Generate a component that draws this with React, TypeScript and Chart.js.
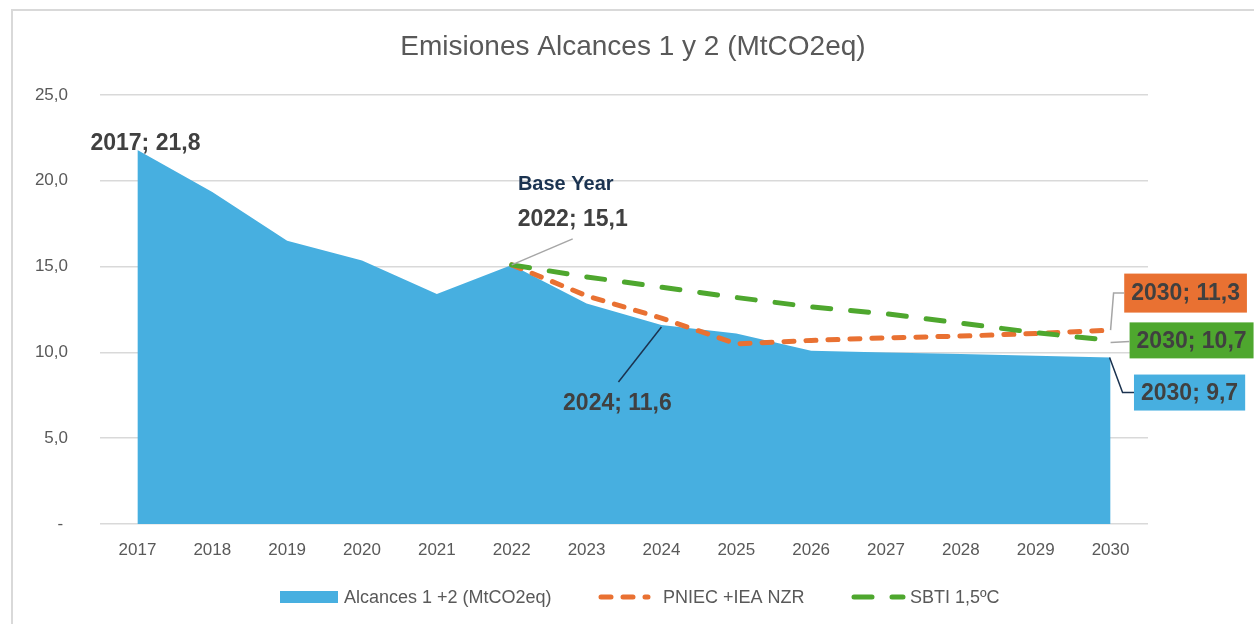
import React, { useEffect, useRef } from 'react';
import { Chart, registerables } from 'chart.js';
Chart.register(...registerables);

const title = 'Emisiones Alcances 1 y 2 (MtCO2eq)';
const years = ['2017', '2018', '2019', '2020', '2021', '2022', '2023', '2024', '2025', '2026', '2027', '2028', '2029', '2030'];
const alcances = [21.8, 19.35, 16.5, 15.35, 13.4, 15.1, 12.85, 11.6, 11.1, 10.1, 10.0, 9.9, 9.8, 9.7];
const pniec = [null, null, null, null, null, 15.1, 13.3, 12.0, 10.5, 10.7, 10.85, 10.95, 11.1, 11.3];
const sbti = [null, null, null, null, null, 15.1, 14.4, 13.8, 13.2, 12.65, 12.25, 11.7, 11.15, 10.7];
const seriesNames = ['Alcances 1 +2 (MtCO2eq)', 'PNIEC +IEA NZR', 'SBTI 1,5ºC'];
const yMin = 0;
const yMax = 25;
const yStep = 5;

const BLUE = '#47AFE0';
const ORANGE = '#E97132';
const GREEN = '#4EA72E';
const GRID = '#d9d9d9';
const TXT = '#595959';
const LBL = '#404040';
const NAVY = '#1b3350';
const SANS = "'Liberation Sans', Arial, sans-serif";

const fmt = (v: number) => v.toFixed(1).replace('.', ',');

function drawText(ctx: CanvasRenderingContext2D, s: string, cx: number, cy: number, font: string, color: string) {
  ctx.save();
  ctx.font = font;
  ctx.fillStyle = color;
  ctx.textAlign = 'center';
  ctx.textBaseline = 'middle';
  ctx.fillText(s, cx, cy);
  ctx.restore();
}

function drawBox(ctx: CanvasRenderingContext2D, s: string, cx: number, cy: number, font: string, bg: string, h: number) {
  ctx.save();
  ctx.font = font;
  const w = ctx.measureText(s).width + 14;
  ctx.fillStyle = bg;
  ctx.fillRect(cx - w / 2, cy - h / 2, w, h);
  ctx.restore();
  drawText(ctx, s, cx, cy + 1, font, LBL);
  return { left: cx - w / 2, w };
}

function poly(ctx: CanvasRenderingContext2D, pts: number[][], color: string) {
  ctx.save();
  ctx.strokeStyle = color;
  ctx.lineWidth = 1.5;
  ctx.beginPath();
  pts.forEach((p, i) => (i ? ctx.lineTo(p[0], p[1]) : ctx.moveTo(p[0], p[1])));
  ctx.stroke();
  ctx.restore();
}

const customPlugin = {
  id: 'customDraw',
  beforeDraw(chart: any) {
    const { ctx, width, height } = chart;
    ctx.save();
    ctx.fillStyle = '#ffffff';
    ctx.fillRect(0, 0, width, height);
    ctx.restore();
  },
  afterDatasetsDraw(chart: any) {
    const { ctx } = chart;
    const x = chart.scales.x;
    const y = chart.scales.y;
    const px = (i: number) => x.getPixelForValue(i);
    const py = (v: number) => y.getPixelForValue(v);
    const bold = `bold 23px ${SANS}`;
    const last = years.length - 1;

    // 2017 label
    drawText(ctx, `${years[0]}; ${fmt(alcances[0])}`, px(0) + 8, py(alcances[0]) - 6, bold, LBL);

    // Base year 2022
    const bi = 5;
    const bx = px(bi), by = py(alcances[bi]);
    poly(ctx, [[bx, by], [bx + 61, by - 26]], '#a6a6a6');
    drawText(ctx, `${years[bi]}; ${fmt(alcances[bi])}`, bx + 61, by - 45, bold, LBL);
    drawText(ctx, 'Base Year', bx + 54, by - 80, `bold 20px ${SANS}`, NAVY);

    // 2024
    const ci = 7;
    const cx = px(ci), cy = py(alcances[ci]);
    poly(ctx, [[cx, cy + 2], [cx - 43, cy + 57]], NAVY);
    drawText(ctx, `${years[ci]}; ${fmt(alcances[ci])}`, cx - 44, cy + 79, bold, LBL);

    // 2030 boxes
    const ex = px(last);
    const oy = py(pniec[last] as number);
    const ob = drawBox(ctx, `${years[last]}; ${fmt(pniec[last] as number)}`, ex + 75, oy - 37, bold, ORANGE, 39);
    poly(ctx, [[ex, oy], [ex + 3, oy - 37], [ob.left, oy - 37]], '#a6a6a6');

    const gy = py(sbti[last] as number);
    const gb = drawBox(ctx, `${years[last]}; ${fmt(sbti[last] as number)}`, ex + 81, gy, bold, GREEN, 36);
    poly(ctx, [[ex, gy + 2], [gb.left, gy + 1]], '#a6a6a6');

    const ay = py(alcances[last]);
    const ab = drawBox(ctx, `${years[last]}; ${fmt(alcances[last])}`, ex + 79, ay + 35, bold, BLUE, 36);
    poly(ctx, [[ex - 1, ay], [ex + 12, ay + 35], [ab.left, ay + 35]], NAVY);
  },
  afterDraw(chart: any) {
    const { ctx } = chart;
    // border
    ctx.save();
    ctx.strokeStyle = GRID;
    ctx.lineWidth = 2;
    ctx.strokeRect(12, 10, 1400, 800);
    ctx.restore();

    // title
    drawText(ctx, title, 633, 47, `28px ${SANS}`, TXT);

    // legend
    const ly = 597;
    const lfont = `18px ${SANS}`;
    ctx.save();
    ctx.font = lfont;
    ctx.fillStyle = TXT;
    ctx.textBaseline = 'middle';
    ctx.textAlign = 'left';
    ctx.fillStyle = BLUE;
    ctx.fillRect(280, ly - 6, 58, 12);
    ctx.fillStyle = TXT;
    ctx.fillText(seriesNames[0], 344, ly + 1);

    const ds = chart.data.datasets;
    const drawLeg = (x0: number, x1: number, d: any) => {
      ctx.save();
      ctx.strokeStyle = d.borderColor;
      ctx.lineWidth = d.borderWidth;
      ctx.lineCap = 'round';
      ctx.setLineDash(d.borderDash);
      ctx.beginPath();
      ctx.moveTo(x0, ly);
      ctx.lineTo(x1, ly);
      ctx.stroke();
      ctx.restore();
    };
    drawLeg(601, 648, ds[1]);
    ctx.fillText(seriesNames[1], 663, ly + 1);
    drawLeg(854, 903, ds[2]);
    ctx.fillText(seriesNames[2], 910, ly + 1);
    ctx.restore();
  },
};

export default function App() {
  const ref = useRef<HTMLCanvasElement | null>(null);
  useEffect(() => {
    document.body.style.margin = '0';
    if (!ref.current) return;
    const chart = new Chart(ref.current, {
      type: 'line',
      data: {
        labels: years,
        datasets: [
          {
            label: seriesNames[0],
            data: alcances,
            fill: 'origin',
            backgroundColor: BLUE,
            borderColor: BLUE,
            borderWidth: 0,
            pointRadius: 0,
            tension: 0,
            order: 3,
          },
          {
            label: seriesNames[1],
            data: pniec,
            fill: false,
            borderColor: ORANGE,
            borderWidth: 5,
            borderDash: [10, 12],
            borderCapStyle: 'round',
            borderJoinStyle: 'round',
            pointRadius: 0,
            tension: 0,
            spanGaps: false,
            order: 2,
          },
          {
            label: seriesNames[2],
            data: sbti,
            fill: false,
            borderColor: GREEN,
            borderWidth: 5,
            borderDash: [18, 20],
            borderCapStyle: 'round',
            borderJoinStyle: 'round',
            pointRadius: 0,
            tension: 0,
            order: 1,
          },
        ] as any,
      },
      options: {
        responsive: false,
        animation: false,
        layout: { padding: { left: 0, right: 106, top: 95, bottom: 0 } },
        plugins: {
          legend: { display: false },
          title: { display: false },
          tooltip: { enabled: false },
        },
        scales: {
          x: {
            offset: true,
            grid: { display: false, drawTicks: false },
            border: { display: false },
            ticks: {
              color: TXT,
              font: { family: SANS, size: 17 },
              padding: 16,
              maxRotation: 0,
              autoSkip: false,
            },
            afterFit: (s: any) => {
              s.height = 100;
            },
          },
          y: {
            min: yMin,
            max: yMax,
            grid: { color: GRID, lineWidth: 1.5, drawTicks: false },
            border: { display: false },
            ticks: {
              stepSize: yStep,
              color: TXT,
              font: { family: SANS, size: 17 },
              padding: 32,
              callback: (v: any) => (Number(v) === 0 ? '- ' : fmt(Number(v))),
            },
            afterFit: (s: any) => {
              s.width = 100;
            },
          },
        },
      },
      plugins: [customPlugin],
    });
    return () => chart.destroy();
  }, []);
  return <canvas ref={ref} width={1254} height={624} style={{ display: 'block' }} />;
}
